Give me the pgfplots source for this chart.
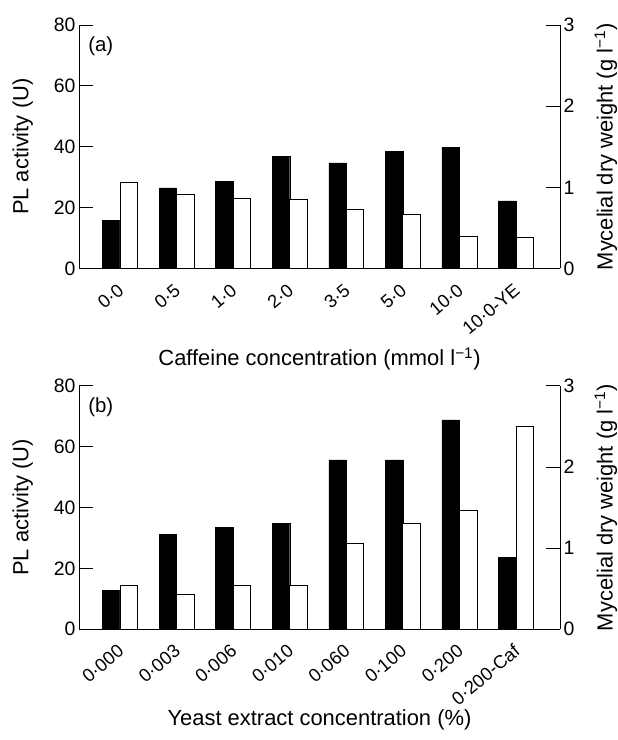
\documentclass[border=0pt]{standalone}
\usepackage{fontspec}
\setmainfont{Liberation Sans}
\usepackage{pgfplots}
\pgfplotsset{compat=1.18}
\newcommand{\fs}{\fontsize{22}{25}\selectfont}
\newcommand{\ft}{\fontsize{19.5}{22}\selectfont}
\newcommand{\fx}{\fontsize{18.5}{21}\selectfont}
\pgfplotsset{
  panel/.style={
    scale only axis, width=481bp, height=243.5bp,
    xmin=-0.724, xmax=7.777, enlargelimits=false,
    /pgf/number format/assume math mode=true,
    tick label style={font=\ft},
    label style={font=\fs},
    major tick length=14bp, tick align=inside,
    axis line style={line width=0.9bp, black},
    every tick/.style={line width=0.9bp, black},
    ybar, bar width=0.31,
  },
  leftpanel/.style={
    panel, ymin=0, ymax=80, ytick={0,20,40,60,80},
    axis y line*=left, axis x line*=bottom,
    xtick={0,...,7}, x tick style={draw=none},
    xticklabel style={font=\fx, xshift=1bp, yshift=-5bp, rotate=40, anchor=east, inner sep=0pt},
    xlabel style={at={(axis description cs:0.5,-0.372)}, anchor=center},
    ylabel={PL activity (U)},
    ylabel style={at={(axis description cs:-0.1168,0.5)}, anchor=center},
  },
  rightpanel/.style={
    panel, ymin=0, ymax=3, ytick={0,1,2,3},
    axis y line*=right, axis x line=none,
    ylabel={Mycelial dry weight (g l\textsuperscript{−1})},
    ylabel style={at={(axis description cs:1.0956,0.5)}, anchor=center},
  },
}
\begin{document}
\begin{tikzpicture}
\useasboundingbox (0,0) rectangle (618bp,740bp);
% ---------- panel (a) ----------
\begin{axis}[leftpanel, at={(79bp,471.5bp)}, anchor=south west,
  xticklabels={0·0,0·5,1·0,2·0,3·5,5·0,10·0,10·0-YE},
  xlabel={Caffeine concentration (mmol l\textsuperscript{−1})}]
\addplot[fill=black, draw=black, bar shift=-0.155] coordinates
  {(0,15.9) (1,26.5) (2,28.6) (3,36.8) (4,34.7) (5,38.5) (6,39.7) (7,22.2)};
\node[anchor=north west, inner sep=0pt, font=\fontsize{20.5}{23}\selectfont] at (axis description cs:0.019,0.951) {(a)};
\end{axis}
\begin{axis}[rightpanel, at={(79bp,471.5bp)}, anchor=south west]
\addplot[fill=white, draw=black, line width=0.8bp, bar shift=0.155] coordinates
  {(0,1.056) (1,0.908) (2,0.863) (3,0.85) (4,0.727) (5,0.664) (6,0.40) (7,0.385)};
\end{axis}
% ---------- panel (b) ----------
\begin{axis}[leftpanel, at={(79bp,110.7bp)}, anchor=south west,
  xticklabels={0·000,0·003,0·006,0·010,0·060,0·100,0·200,0·200-Caf},
  xlabel={Yeast extract concentration (\%)}]
\addplot[fill=black, draw=black, bar shift=-0.155] coordinates
  {(0,12.7) (1,31.1) (2,33.4) (3,34.8) (4,55.7) (5,55.7) (6,68.8) (7,23.7)};
\node[anchor=north west, inner sep=0pt, font=\fontsize{20.5}{23}\selectfont] at (axis description cs:0.019,0.951) {(b)};
\end{axis}
\begin{axis}[rightpanel, at={(79bp,110.7bp)}, anchor=south west]
\addplot[fill=white, draw=black, line width=0.8bp, bar shift=0.155] coordinates
  {(0,0.54) (1,0.43) (2,0.54) (3,0.54) (4,1.055) (5,1.30) (6,1.46) (7,2.50)};
\end{axis}
\end{tikzpicture}
\end{document}
